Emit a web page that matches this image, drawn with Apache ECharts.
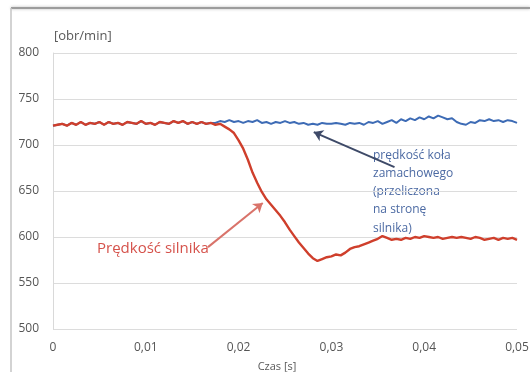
<!DOCTYPE html>
<html>
<head>
<meta charset="utf-8">
<script src="https://cdn.jsdelivr.net/npm/echarts@6/dist/echarts.min.js"></script>
<style>
  html, body { margin: 0; padding: 0; background: #fff; }
  #chart { width: 530px; height: 372px; }
</style>
</head>
<body>
<div id="chart"></div>
<script>
// czas [s], krok 0.0005
const timeStep = 0.0005

// prędkość silnika [obr/min]
const engineSpeed = [
  721, 722, 723, 721, 724, 722, 725, 722, 724, 723,
  725, 722, 725, 723, 724, 722, 725, 724, 723, 726,
  723, 724, 722, 725, 724, 723, 726, 724, 726, 723,
  725, 723, 725, 723, 724, 722, 723, 720, 717, 713,
  705, 696, 684, 670, 659, 649, 641, 635, 629, 623,
  616, 608, 601, 594, 588, 582, 577, 574, 576, 578,
  579, 581, 580, 583, 587, 589, 590, 592, 594, 596,
  598, 601, 599, 597, 598, 597, 599, 598, 600, 599,
  601, 600, 599, 600, 598, 599, 600, 599, 600, 599,
  598, 600, 599, 597, 598, 599, 597, 599, 598, 599,
  597
]

// prędkość koła zamachowego (przeliczona na stronę silnika)
const flywheelSpeed = [
  721, 722, 723, 721, 724, 722, 725, 722, 724, 723,
  725, 722, 725, 723, 724, 722, 725, 724, 723, 726,
  723, 724, 722, 725, 724, 723, 726, 724, 726, 723,
  725, 723, 725, 723, 724, 724, 726, 725, 727, 725,
  726, 724, 726, 725, 727, 724, 725, 723, 725, 724,
  726, 724, 725, 723, 724, 722, 723, 722, 724, 723,
  723, 724, 723, 722, 724, 723, 724, 722, 725, 724,
  726, 723, 725, 727, 724, 728, 726, 729, 727, 730,
  728, 731, 729, 732, 730, 728, 729, 725, 723, 722,
  725, 724, 727, 726, 728, 726, 727, 725, 727, 726,
  724
]

const yTicks = { min: 500, max: 800, step: 50 }
const xTicks = { min: 0, max: 0.05, step: 0.01 }

// strzałki adnotacji [czas, prędkość]
const flywheelArrow = [[0.0368, 676], [0.0281, 714]]
const engineArrow = [[0.0167, 589], [0.0226, 637]]

const toPairs = (vals) => vals.map((v, i) => [+(i * timeStep).toFixed(4), v])

const chart = echarts.init(document.getElementById('chart'))
const font = '"Open Sans", "Noto Sans", sans-serif'

const option = {
  animation: false,
  backgroundColor: '#fff',
  grid: { left: 53, right: 13, top: 53, bottom: 43, outerBoundsMode: 'none' },
  xAxis: {
    type: 'value',
    min: xTicks.min,
    max: xTicks.max,
    interval: xTicks.step,
    name: 'Czas [s]',
    nameLocation: 'middle',
    nameGap: 32,
    nameTextStyle: { color: '#595959', fontSize: 11, fontFamily: font, padding: [0, 16, 0, 0] },
    axisLine: { show: false },
    axisTick: { show: false },
    splitLine: { show: false },
    axisLabel: {
      color: '#555', fontSize: 12, fontFamily: font, margin: 13,
      formatter: (v) => v === 0 ? '0' : v.toFixed(2).replace('.', ',')
    }
  },
  yAxis: {
    type: 'value',
    min: yTicks.min,
    max: yTicks.max,
    interval: yTicks.step,
    axisLine: { show: true, lineStyle: { color: '#d9d9d9' } },
    axisTick: { show: false },
    splitLine: { lineStyle: { color: '#dcdcdc' } },
    axisLabel: { color: '#555', fontSize: 12, fontFamily: font, margin: 14 }
  },
  series: [
    {
      name: 'prędkość koła zamachowego',
      type: 'line',
      data: toPairs(flywheelSpeed),
      showSymbol: false,
      lineStyle: { color: '#3d6bb5', width: 2 },
      markLine: {
        silent: true,
        symbol: ['none', 'arrow'],
        symbolSize: 9,
        label: { show: false },
        lineStyle: { color: '#3e4a68', width: 2, type: 'solid' },
        data: [[{ coord: flywheelArrow[0] }, { coord: flywheelArrow[1] }]]
      }
    },
    {
      name: 'Prędkość silnika',
      type: 'line',
      data: toPairs(engineSpeed),
      showSymbol: false,
      lineStyle: { color: '#cf3f2c', width: 2.4 },
      markLine: {
        silent: true,
        symbol: ['none', 'arrow'],
        symbolSize: 9,
        label: { show: false },
        lineStyle: { color: '#d9736a', width: 2, type: 'solid' },
        data: [[{ coord: engineArrow[0] }, { coord: engineArrow[1] }]]
      }
    }
  ],
  graphic: [
    // ramka zrzutu ekranu
    { type: 'line', shape: { x1: 11, y1: 8, x2: 530, y2: 8 },
      style: { stroke: '#9c9c9c', lineWidth: 2, shadowBlur: 3, shadowColor: 'rgba(0,0,0,0.3)' } },
    { type: 'line', shape: { x1: 11, y1: 8, x2: 11, y2: 372 },
      style: { stroke: '#c4c4c4', lineWidth: 1.5 } },
    { type: 'text', left: 54, top: 30,
      style: { text: '[obr/min]', fill: '#595959', fontSize: 13, fontFamily: font } },
    { type: 'text', left: 373, top: 146,
      style: {
        text: 'prędkość koła\nzamachowego\n(przeliczona\nna stronę\nsilnika)',
        fill: '#4c6aa3', fontSize: 12, lineHeight: 18.3, fontFamily: font
      } },
    { type: 'text', left: 97, top: 241,
      style: { text: 'Prędkość silnika', fill: '#d5524b', fontSize: 15, fontFamily: font } }
  ]
}

chart.setOption(option)
</script>
</body>
</html>
